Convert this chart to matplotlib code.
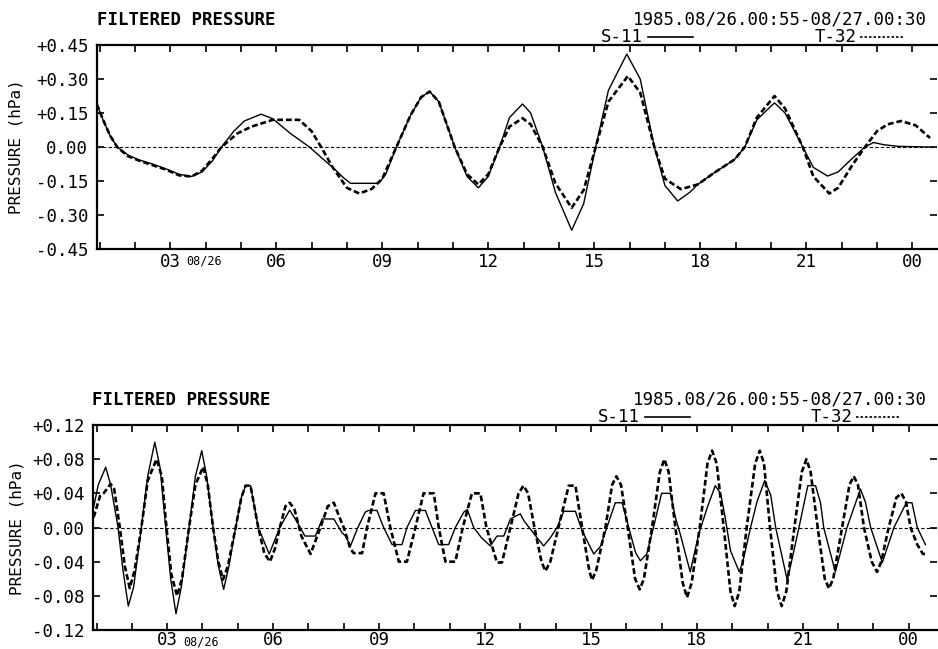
import matplotlib
matplotlib.use("Agg")
import matplotlib.pyplot as plt
import numpy as np

plt.rcParams['font.family'] = ['DejaVu Sans Mono']

# ---- data (hours since 08/26 00:00, hPa) ----
top_s11_t = [0.92, 1.1, 1.3, 1.5, 1.8, 2.12, 2.5, 2.89, 3.25, 3.6, 3.9, 4.2, 4.45, 4.8, 5.1, 5.57,
             5.9, 6.4, 6.94, 7.3, 7.6, 7.9, 8.1, 8.9, 9.1, 9.4, 9.8, 10.1, 10.34, 10.6, 11.05,
             11.4, 11.72, 12.0, 12.32, 12.6, 12.97, 13.2, 13.54, 13.9, 14.36, 14.7, 15.04, 15.4,
             15.92, 16.3, 16.7, 17.0, 17.36, 17.7, 17.93, 18.4, 18.97, 19.26, 19.6, 20.1, 20.4,
             20.9, 21.2, 21.6, 21.9, 22.3, 22.66, 22.9, 23.2, 23.6, 24.5]
top_s11_v = [0.19, 0.12, 0.05, 0.0, -0.035, -0.057, -0.075, -0.097, -0.12, -0.13, -0.11, -0.06, 0.0,
             0.07, 0.115, 0.145, 0.125, 0.06, 0.0, -0.05, -0.09, -0.135, -0.16, -0.16, -0.12, 0.0,
             0.14, 0.22, 0.245, 0.2, 0.0, -0.13, -0.18, -0.13, 0.0, 0.13, 0.19, 0.15, 0.0, -0.2,
             -0.367, -0.25, 0.0, 0.25, 0.41, 0.3, 0.0, -0.17, -0.238, -0.2, -0.165, -0.113, -0.055,
             0.0, 0.12, 0.195, 0.15, 0.0, -0.09, -0.128, -0.11, -0.05, 0.0, 0.02, 0.01, 0.003, 0.0]

top_t32_t = [0.92, 1.1, 1.3, 1.5, 1.8, 2.12, 2.5, 2.89, 3.25, 3.6, 3.9, 4.2, 4.45, 4.9, 5.3, 5.9,
             6.65, 7.0, 7.27, 7.6, 8.0, 8.35, 8.7, 9.0, 9.4, 9.8, 10.1, 10.34, 10.6, 11.05, 11.4,
             11.72, 12.0, 12.32, 12.6, 12.97, 13.2, 13.54, 13.9, 14.36, 14.7, 15.04, 15.4, 15.95,
             16.3, 16.7, 17.0, 17.45, 17.7, 17.93, 18.4, 18.97, 19.26, 19.6, 20.1, 20.4, 20.9,
             21.2, 21.65, 21.9, 22.3, 22.66, 23.0, 23.3, 23.68, 24.1, 24.5]
top_t32_v = [0.19, 0.12, 0.05, 0.0, -0.04, -0.06, -0.08, -0.1, -0.125, -0.13, -0.105, -0.05, 0.0,
             0.06, 0.09, 0.12, 0.12, 0.07, 0.0, -0.09, -0.18, -0.205, -0.185, -0.14, 0.0, 0.14,
             0.22, 0.245, 0.2, 0.0, -0.12, -0.165, -0.12, 0.0, 0.09, 0.127, 0.1, 0.0, -0.16,
             -0.268, -0.19, 0.0, 0.2, 0.313, 0.24, 0.0, -0.14, -0.186, -0.175, -0.165, -0.113,
             -0.055, 0.0, 0.13, 0.225, 0.17, 0.0, -0.13, -0.205, -0.18, -0.08, 0.0, 0.07, 0.1,
             0.115, 0.095, 0.04]

bot_s11_t = [0.92, 1.05, 1.26, 1.4, 1.61, 1.75, 1.9, 2.05, 2.27, 2.45, 2.65, 2.8, 2.96, 3.1, 3.25,
             3.4, 3.62, 3.8, 3.98, 4.12, 4.3, 4.45, 4.6, 4.75, 4.94, 5.1, 5.22, 5.36, 5.58, 5.89,
             6.19, 6.47, 6.7, 6.9, 7.2, 7.39, 7.72, 7.95, 8.05, 8.19, 8.4, 8.61, 8.7, 8.94, 9.13,
             9.37, 9.65, 9.79, 10.03, 10.31, 10.5, 10.69, 10.97, 11.16, 11.4, 11.5, 11.68, 11.9,
             12.15, 12.34, 12.53, 12.72, 12.9, 13.0, 13.1, 13.4, 13.66, 13.85, 14.04, 14.23, 14.56,
             14.75, 15.08, 15.27, 15.45, 15.69, 15.88, 16.07, 16.26, 16.4, 16.58, 16.77, 17.0,
             17.25, 17.39, 17.53, 17.81, 18.05, 18.29, 18.52, 18.67, 18.8, 18.95, 19.2, 19.3,
             19.52, 19.7, 19.92, 20.09, 20.23, 20.56, 20.89, 21.14, 21.36, 21.5, 21.59, 21.92,
             22.25, 22.63, 22.77, 22.92, 23.25, 23.58, 23.93, 24.09, 24.24, 24.47]
bot_s11_v = [0.024, 0.05, 0.0706, 0.05, 0.0, -0.05, -0.092, -0.07, 0.0, 0.06, 0.1, 0.07, 0.0, -0.06,
             -0.101, -0.07, 0.0, 0.06, 0.09, 0.06, 0.0, -0.045, -0.0725, -0.045, 0.0, 0.035, 0.049,
             0.049, 0.0, -0.031, 0.0, 0.0204, 0.005, -0.01, -0.01, 0.01, 0.01, -0.006, -0.01,
             -0.0216, 0.0, 0.018, 0.02, 0.02, 0.0, -0.02, -0.02, 0.0, 0.02, 0.02, 0.0, -0.02, -0.02,
             0.0, 0.018, 0.021, 0.0, -0.012, -0.0216, -0.01, -0.01, 0.01, 0.014, 0.016, 0.008,
             -0.008, -0.0216, -0.012, 0.0, 0.019, 0.019, -0.004, -0.031, -0.022, 0.0, 0.029, 0.029,
             0.0, -0.029, -0.039, -0.031, 0.0, 0.04, 0.04, 0.012, -0.008, -0.052, -0.008, 0.023,
             0.049, 0.04, 0.012, -0.027, -0.052, -0.04, 0.0, 0.03, 0.055, 0.038, 0.0, -0.062, 0.0,
             0.049, 0.049, 0.029, 0.0, -0.052, 0.0, 0.045, 0.03, 0.0, -0.041, 0.0, 0.029, 0.029,
             0.0, -0.02]

bot_t32_t = [0.92, 1.1, 1.2, 1.4, 1.5, 1.66, 1.8, 1.94, 2.08, 2.27, 2.45, 2.7, 2.85, 2.98, 3.12,
             3.28, 3.42, 3.62, 3.8, 4.02, 4.15, 4.3, 4.45, 4.58, 4.72, 4.94, 5.1, 5.22, 5.36, 5.58,
             5.75, 5.91, 6.05, 6.19, 6.35, 6.47, 6.6, 6.8, 7.06, 7.34, 7.55, 7.72, 7.85, 8.0, 8.19,
             8.28, 8.52, 8.66, 8.9, 9.13, 9.32, 9.56, 9.79, 10.03, 10.26, 10.55, 10.69, 10.88,
             11.16, 11.37, 11.63, 11.87, 12.04, 12.34, 12.48, 12.72, 12.95, 13.09, 13.22, 13.4,
             13.6, 13.71, 13.85, 14.08, 14.37, 14.56, 14.75, 14.95, 15.03, 15.15, 15.41, 15.6,
             15.72, 15.85, 16.04, 16.25, 16.38, 16.5, 16.73, 16.95, 17.08, 17.2, 17.39, 17.6,
             17.72, 17.85, 18.08, 18.3, 18.43, 18.56, 18.76, 18.95, 19.07, 19.2, 19.41, 19.65,
             19.78, 19.9, 20.07, 20.27, 20.4, 20.53, 20.76, 20.97, 21.1, 21.22, 21.42, 21.62,
             21.74, 21.86, 22.11, 22.32, 22.44, 22.56, 22.73, 22.95, 23.1, 23.22, 23.43, 23.65,
             23.79, 23.92, 24.05, 24.24, 24.4, 24.5]
bot_t32_v = [0.012, 0.037, 0.04, 0.051, 0.045, 0.0, -0.045, -0.071, -0.05, 0.0, 0.055, 0.08, 0.06,
             0.0, -0.055, -0.08, -0.06, 0.0, 0.05, 0.071, 0.05, 0.0, -0.04, -0.061, -0.045, 0.0,
             0.035, 0.049, 0.049, 0.0, -0.03, -0.04, -0.025, 0.0, 0.025, 0.029, 0.022, -0.01,
             -0.031, 0.0, 0.025, 0.029, 0.015, 0.0, -0.025, -0.03, -0.03, 0.0, 0.04, 0.04, 0.0,
             -0.04, -0.04, 0.0, 0.04, 0.04, 0.0, -0.04, -0.04, 0.0, 0.04, 0.04, 0.0, -0.041,
             -0.041, 0.0, 0.04, 0.049, 0.04, 0.0, -0.04, -0.051, -0.04, 0.0, 0.049, 0.049, 0.0,
             -0.05, -0.0616, -0.05, 0.0, 0.05, 0.06, 0.05, 0.0, -0.06, -0.0725, -0.06, 0.0, 0.065,
             0.08, 0.065, 0.0, -0.065, -0.082, -0.065, 0.0, 0.075, 0.09, 0.075, 0.0, -0.075,
             -0.092, -0.075, 0.0, 0.075, 0.09, 0.075, 0.0, -0.075, -0.092, -0.075, 0.0, 0.065,
             0.08, 0.065, 0.0, -0.06, -0.0714, -0.06, 0.0, 0.05, 0.06, 0.05, 0.0, -0.04, -0.052,
             -0.04, 0.0, 0.035, 0.04, 0.03, 0.0, -0.02, -0.031, -0.031]

hour_ticks = list(range(1, 25))
hour_labels = {3: "03", 6: "06", 9: "09", 12: "12", 15: "15", 18: "18", 21: "21", 24: "00"}
top_yticks = [-0.45, -0.30, -0.15, 0.0, 0.15, 0.30, 0.45]
bot_yticks = [-0.12, -0.08, -0.04, 0.0, 0.04, 0.08, 0.12]

title = "FILTERED PRESSURE"
period = "1985.08/26.00:55-08/27.00:30"


def fmt_y(v):
    if abs(v) < 1e-9:
        return "0.00"
    return f"{v:+.2f}"


def panel(ax, s_t, s_v, t_t, t_v, yticks, xlim, xpad, label_x):
    ax.axhline(0, color='black', lw=0.8, ls=(0, (3, 2)))
    ax.plot(s_t, s_v, color='black', lw=1.0)
    ax.plot(t_t, t_v, color='black', lw=1.9, ls=(0, (2.2, 1.1)))
    ax.set_xlim(*xlim)
    ax.set_ylim(yticks[0], yticks[-1])
    ax.set_xticks(hour_ticks)
    ax.set_xticklabels([hour_labels.get(h, "") for h in hour_ticks])
    ax.set_yticks(yticks)
    ax.set_yticklabels([fmt_y(v) for v in yticks])
    ax.tick_params(axis='both', direction='in', length=5, width=1.2, labelsize=12.5,
                   top=True, right=True)
    ax.tick_params(axis='x', pad=xpad)
    ax.tick_params(axis='y', pad=6)
    for s in ['left', 'top', 'bottom']:
        ax.spines[s].set_linewidth(1.6)
    ax.spines['right'].set_visible(False)
    ax.set_ylabel("PRESSURE (hPa)", fontsize=11.5)
    ax.yaxis.set_label_coords(label_x, 0.5)
    ax.text(3.95, -0.025, "08/26", transform=ax.get_xaxis_transform(),
            ha='center', va='top', fontsize=8.5)


fig = plt.figure(figsize=(9.38, 6.49), dpi=100)
ax1 = fig.add_axes([0.103, 0.6163, 0.896, 0.3143])
ax2 = fig.add_axes([0.0995, 0.0293, 0.8995, 0.3158])

panel(ax1, top_s11_t, top_s11_v, top_t32_t, top_t32_v, top_yticks, (0.917, 24.7), 3, -0.087)
panel(ax2, bot_s11_t, bot_s11_v, bot_t32_t, bot_t32_v, bot_yticks, (0.91, 24.8), 0.5, -0.082)

W, H = 938, 649
for y0, xl, xs, xt in [(20, 97, 601, 815), (400, 92, 598, 811)]:
    fig.text(xl / W, 1 - y0 / H, title, fontsize=12.5, fontweight='bold', va='center', ha='left')
    fig.text(927 / W, 1 - y0 / H, period, fontsize=12.5, va='center', ha='right')
    yl = 1 - (y0 + 17) / H
    fig.text(xs / W, yl, "S-11", fontsize=12.5, va='center', ha='left')
    fig.add_artist(plt.Line2D([(xs + 47) / W, (xs + 92) / W], [yl, yl], color='black', lw=1.2))
    fig.text(xt / W, yl, "T-32", fontsize=12.5, va='center', ha='left')
    fig.add_artist(plt.Line2D([(xt + 45) / W, (xt + 90) / W], [yl, yl], color='black', lw=1.2,
                              ls=(0, (1.5, 1.2))))

fig.savefig("out.png", dpi=100)
